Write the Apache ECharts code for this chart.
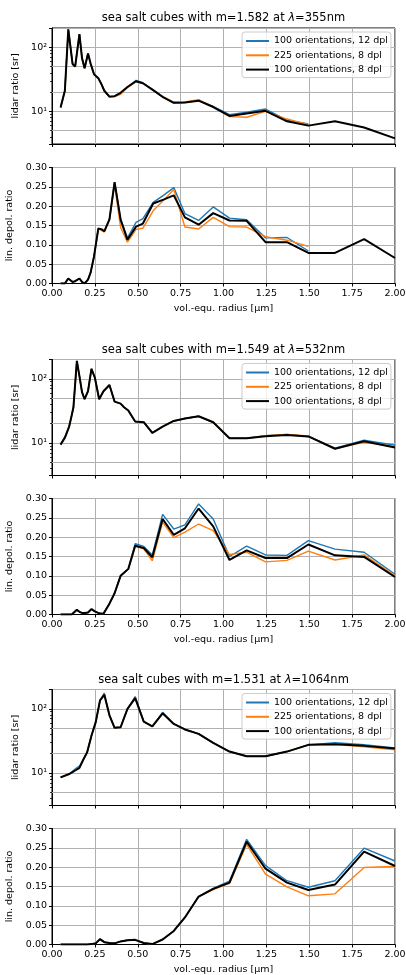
<!DOCTYPE html>
<html>
<head>
<meta charset="utf-8">
<script src="https://cdn.jsdelivr.net/npm/echarts@6/dist/echarts.min.js"></script>
<style>
  html, body { margin: 0; padding: 0; background: #ffffff; }
  #chart { width: 406px; height: 975px; }
</style>
</head>
<body>
<div id="chart"></div>
<script>
// Lidar ratio and linear depolarization ratio of sea salt cubes at three wavelengths,
// for three discretisation settings, as a function of volume-equivalent radius.

const seriesNames = ['100 orientations, 12 dpl', '225 orientations, 8 dpl', '100 orientations, 8 dpl'];
const seriesColors = ['#1f77b4', '#ff7f0e', '#000000'];
const seriesWidths = [1.4, 1.4, 2];

const panelTitles = [
  'sea salt cubes with m=1.582 at {i|λ}=355nm',
  'sea salt cubes with m=1.549 at {i|λ}=532nm',
  'sea salt cubes with m=1.531 at {i|λ}=1064nm'
];

const lidarMinorGrid = [5, 20, 50];

// ---- 355 nm ----
const radius355 = [0.05, 0.075, 0.095, 0.12, 0.135, 0.16, 0.175, 0.19, 0.21, 0.225, 0.245, 0.27, 0.29, 0.305, 0.335, 0.365, 0.4, 0.44, 0.49, 0.53, 0.59, 0.65, 0.71, 0.775, 0.855, 0.94, 1.035, 1.135, 1.245, 1.37, 1.495, 1.65, 1.82, 2.0];
const lidar355_o100_d12 = [11.5, 21, 190, 55, 50, 160, 68, 47, 80, 56, 38, 33, 26, 21, 17, 17.3, 19.5, 24, 30.5, 28, 21.5, 16.5, 13.6, 13.8, 14.8, 12, 8.9, 9.7, 10.9, 7.3, 6.4, null, null, null];
const lidar355_o225_d8 = [11.5, 21, 190, 55, 50, 160, 68, 47, 80, 56, 38, 33, 26, 21, 16.8, 17, 18.5, 23.5, 29, 27.5, 21.5, 16.8, 14, 14, 15.2, 11.8, 8.3, 8.1, 10.0, 7.6, 6.2, null, null, null];
const lidar355_o100_d8 = [11.5, 21, 190, 55, 50, 160, 68, 47, 80, 56, 38, 33, 26, 21, 17, 17.3, 19.5, 24, 29.5, 27.5, 21.5, 16.5, 13.6, 13.8, 14.7, 11.7, 8.5, 9.3, 10.2, 7.0, 6.0, 7.0, 5.6, 3.8];
const depol355_o100_d12 = [0, 0, 0.013, 0.004, 0.006, 0.013, 0.004, 0.0, 0.01, 0.028, 0.07, 0.142, 0.14, 0.135, 0.166, 0.262, 0.168, 0.118, 0.158, 0.168, 0.21, 0.228, 0.248, 0.181, 0.163, 0.198, 0.169, 0.165, 0.118, 0.119, 0.084, null, null, null];
const depol355_o225_d8 = [0, 0, 0.013, 0.004, 0.006, 0.013, 0.004, 0.0, 0.01, 0.028, 0.07, 0.142, 0.137, 0.133, 0.164, 0.255, 0.145, 0.107, 0.14, 0.143, 0.188, 0.215, 0.243, 0.146, 0.141, 0.171, 0.147, 0.146, 0.121, 0.112, 0.096, null, null, null];
const depol355_o100_d8 = [0, 0, 0.013, 0.004, 0.006, 0.013, 0.004, 0.0, 0.01, 0.028, 0.07, 0.142, 0.14, 0.135, 0.166, 0.262, 0.165, 0.113, 0.147, 0.155, 0.207, 0.217, 0.228, 0.171, 0.152, 0.182, 0.163, 0.162, 0.107, 0.107, 0.079, 0.079, 0.115, 0.066];

// ---- 532 nm ----
const radius532 = [0.05, 0.075, 0.1, 0.115, 0.125, 0.145, 0.16, 0.175, 0.19, 0.21, 0.23, 0.25, 0.275, 0.3, 0.335, 0.365, 0.4, 0.42, 0.445, 0.485, 0.535, 0.585, 0.645, 0.71, 0.775, 0.855, 0.94, 1.035, 1.135, 1.245, 1.37, 1.495, 1.65, 1.82, 2.0];
const lidar532_o100_d12 = [9.4, 12.5, 18, 27, 36, 190, 110, 62, 48, 64, 143, 104, 48, 64, 80, 44, 41, 36, 32, 21.5, 21, 14.3, 18, 22, 24, 26, 21, 11.8, 11.8, 12.9, 13.5, 12.6, 8.3, 11.0, 9.2];
const lidar532_o225_d8 = [9.4, 12, 18, 27, 36, 190, 110, 62, 48, 64, 143, 104, 48, 64, 80, 44, 41, 36, 32, 21.5, 21, 14.3, 18, 22, 24, 26, 21, 11.8, 11.8, 13.0, 13.6, 12.8, 8.1, 10.3, 8.7];
const lidar532_o100_d8 = [9.4, 12, 18, 27, 36, 190, 110, 62, 48, 64, 143, 104, 48, 64, 80, 44, 41, 36, 32, 21.5, 21, 14.3, 18, 22, 24, 26, 21, 11.8, 11.8, 12.7, 13.3, 12.6, 8.1, 10.6, 8.5];
const depol532_o100_d12 = [0, 0, 0, 0, 0.003, 0.012, 0.007, 0.004, 0.004, 0.005, 0.014, 0.008, 0.003, 0.002, 0.028, 0.055, 0.1, 0.108, 0.118, 0.183, 0.176, 0.154, 0.259, 0.221, 0.232, 0.286, 0.247, 0.15, 0.177, 0.154, 0.153, 0.191, 0.169, 0.161, 0.104];
const depol532_o225_d8 = [0, 0, 0, 0, 0.003, 0.012, 0.007, 0.004, 0.004, 0.005, 0.014, 0.008, 0.003, 0.002, 0.028, 0.055, 0.1, 0.108, 0.118, 0.176, 0.17, 0.139, 0.239, 0.199, 0.213, 0.234, 0.217, 0.155, 0.161, 0.136, 0.14, 0.164, 0.141, 0.154, 0.1];
const depol532_o100_d8 = [0, 0, 0, 0, 0.003, 0.012, 0.007, 0.004, 0.004, 0.005, 0.014, 0.008, 0.003, 0.002, 0.028, 0.055, 0.1, 0.108, 0.118, 0.178, 0.172, 0.148, 0.247, 0.206, 0.223, 0.274, 0.228, 0.141, 0.166, 0.146, 0.146, 0.181, 0.153, 0.149, 0.097];

// ---- 1064 nm ----
const radius1064 = [0.05, 0.1, 0.14, 0.16, 0.18, 0.205, 0.23, 0.255, 0.28, 0.305, 0.335, 0.365, 0.4, 0.44, 0.485, 0.535, 0.585, 0.645, 0.71, 0.775, 0.855, 0.94, 1.035, 1.135, 1.245, 1.37, 1.495, 1.65, 1.82, 2.0];
const lidar1064_o100_d12 = [8.5, 9.6, 11.8, 12.8, 15.6, 21, 38, 62, 135, 175, 79, 50.5, 51.5, 100, 155, 63, 53, 88, 58, 47.6, 40.6, 29.4, 21.5, 18.2, 18.2, 21.5, 27.4, 29.5, 27.5, 24.5];
const lidar1064_o225_d8 = [8.5, 9.6, 11.1, 12, 15.6, 21, 38, 62, 135, 165, 79, 50.5, 51.5, 100, 147, 63, 53, 85, 58, 47.6, 40.6, 29.4, 21.5, 18.2, 18.2, 21.5, 27.4, 28, 25.5, 23];
const lidar1064_o100_d8 = [8.5, 9.6, 11.1, 12, 15.6, 21, 38, 62, 135, 165, 79, 50.5, 51.5, 100, 147, 63, 53, 85, 58, 47.6, 40.6, 29.4, 21.5, 18.2, 18.2, 21.5, 27.4, 28, 26.4, 24];
const depol1064_o100_d12 = [0, 0, 0, 0, 0, 0, 0.001, 0.003, 0.014, 0.006, 0.004, 0.003, 0.008, 0.011, 0.012, 0.004, 0.001, 0.013, 0.035, 0.07, 0.124, 0.145, 0.164, 0.272, 0.204, 0.165, 0.148, 0.165, 0.249, 0.216];
const depol1064_o225_d8 = [0, 0, 0, 0, 0, 0, 0.001, 0.003, 0.014, 0.006, 0.004, 0.003, 0.008, 0.011, 0.012, 0.004, 0.001, 0.013, 0.035, 0.07, 0.124, 0.142, 0.158, 0.259, 0.182, 0.149, 0.126, 0.131, 0.199, 0.202];
const depol1064_o100_d8 = [0, 0, 0, 0, 0, 0, 0.001, 0.003, 0.014, 0.006, 0.004, 0.003, 0.008, 0.011, 0.012, 0.004, 0.001, 0.013, 0.035, 0.07, 0.124, 0.144, 0.16, 0.266, 0.196, 0.16, 0.141, 0.155, 0.24, 0.203];

const FONT = 'DejaVu Sans';
const GRID_COLOR = '#b0b0b0';

// Panels from top to bottom
const panels = [
  { kind: 'lidar', radius: radius355, values: [lidar355_o100_d12, lidar355_o225_d8, lidar355_o100_d8], top: 28, titleIndex: 0 },
  { kind: 'depol', radius: radius355, values: [depol355_o100_d12, depol355_o225_d8, depol355_o100_d8], top: 167.5 },
  { kind: 'lidar', radius: radius532, values: [lidar532_o100_d12, lidar532_o225_d8, lidar532_o100_d8], top: 359.5, titleIndex: 1 },
  { kind: 'depol', radius: radius532, values: [depol532_o100_d12, depol532_o225_d8, depol532_o100_d8], top: 498.5 },
  { kind: 'lidar', radius: radius1064, values: [lidar1064_o100_d12, lidar1064_o225_d8, lidar1064_o100_d8], top: 689.5, titleIndex: 2 },
  { kind: 'depol', radius: radius1064, values: [depol1064_o100_d12, depol1064_o225_d8, depol1064_o100_d8], top: 828.5 }
];
const PLOT_LEFT = 52;
const PLOT_WIDTH = 343;
const PLOT_HEIGHT = 116;

function pairs(xs, ys) {
  const out = [];
  xs.forEach((x, i) => { if (ys[i] !== null && ys[i] !== undefined) out.push([x, ys[i]]); });
  return out;
}

const labelStyle = { fontSize: 9.5, color: '#000000', fontFamily: FONT };

const grids = [], xAxes = [], yAxes = [], series = [], titles = [], legends = [];

panels.forEach((p, i) => {
  const isDepol = p.kind === 'depol';
  grids.push({
    left: PLOT_LEFT, top: p.top, width: PLOT_WIDTH, height: PLOT_HEIGHT,
    show: true, borderColor: '#000000', borderWidth: 1, backgroundColor: 'transparent',
    containLabel: false, outerBoundsMode: 'none'
  });
  xAxes.push({
    gridIndex: i, type: 'value', min: 0, max: 2, interval: 0.25,
    axisLine: { show: true, onZero: false, lineStyle: { color: '#000000', width: 1 } },
    axisTick: { show: true, length: 3, lineStyle: { color: '#000000', width: 1 } },
    axisLabel: Object.assign({ show: isDepol, margin: 5, formatter: v => v.toFixed(2) }, labelStyle),
    splitLine: { show: true, lineStyle: { color: GRID_COLOR, width: 1 } },
    name: isDepol ? 'vol.-equ. radius [μm]' : '',
    nameLocation: 'middle', nameGap: 20,
    nameTextStyle: labelStyle
  });
  if (isDepol) {
    yAxes.push({
      gridIndex: i, type: 'value', min: 0, max: 0.3, interval: 0.05,
      axisLine: { show: true, onZero: false, lineStyle: { color: '#000000', width: 1 } },
      axisTick: { show: true, length: 3, lineStyle: { color: '#000000', width: 1 } },
      axisLabel: Object.assign({ margin: 5, formatter: v => v.toFixed(2) }, labelStyle),
      splitLine: { show: true, lineStyle: { color: GRID_COLOR, width: 1 } },
      name: 'lin. depol. ratio', nameLocation: 'middle', nameGap: 32,
      nameTextStyle: labelStyle
    });
  } else {
    yAxes.push({
      gridIndex: i, type: 'log', logBase: 10, min: 3.1, max: 200,
      axisLine: { show: true, onZero: false, lineStyle: { color: '#000000', width: 1 } },
      axisTick: { show: true, length: 3, lineStyle: { color: '#000000', width: 1 } },
      minorTick: { show: true, splitNumber: 9, length: 2, lineStyle: { color: '#000000', width: 0.8 } },
      axisLabel: Object.assign({
        margin: 5,
        formatter: v => {
          const e = Math.log10(v);
          if (Math.abs(e - 1) < 1e-6) return '10¹';
          if (Math.abs(e - 2) < 1e-6) return '10²';
          return '';
        }
      }, labelStyle),
      splitLine: { show: true, lineStyle: { color: GRID_COLOR, width: 1 } },
      name: 'lidar ratio [sr]', nameLocation: 'middle', nameGap: 28,
      nameTextStyle: labelStyle
    });
    titles.push({
      text: panelTitles[p.titleIndex],
      left: PLOT_LEFT + PLOT_WIDTH / 2, top: p.top - 15.5,
      textAlign: 'center', textVerticalAlign: 'top', padding: 0,
      textStyle: {
        fontSize: 11.5, fontWeight: 'normal', color: '#000000', fontFamily: FONT,
        rich: { i: { fontSize: 11.5, fontStyle: 'italic', color: '#000000', fontFamily: FONT } }
      }
    });
    legends.push({
      orient: 'vertical', left: 242, top: p.top + 4,
      data: seriesNames, selectedMode: false,
      itemWidth: 23, itemHeight: 10, itemGap: 4.3,
      padding: [4, 3, 3, 3],
      itemStyle: { opacity: 0 },
      backgroundColor: 'rgba(255,255,255,0.8)',
      borderColor: '#cccccc', borderWidth: 1, borderRadius: 3,
      textStyle: labelStyle, z: 10
    });
  }
  p.values.forEach((vals, k) => {
    const s = {
      type: 'line', name: seriesNames[k],
      xAxisIndex: i, yAxisIndex: i,
      data: pairs(p.radius, vals),
      symbol: 'none', showSymbol: false,
      color: seriesColors[k],
      lineStyle: { color: seriesColors[k], width: seriesWidths[k] },
      itemStyle: { color: seriesColors[k] },
      animation: false, silent: true, z: 2 + k
    };
    if (!isDepol && k === 0) {
      // extra horizontal grid lines at the log-axis minor ticks
      s.markLine = {
        silent: true, symbol: 'none', z: 1, animation: false,
        label: { show: false },
        lineStyle: { color: GRID_COLOR, width: 1, type: 'solid' },
        emphasis: { disabled: true },
        data: lidarMinorGrid.map(v => ({ yAxis: v }))
      };
    }
    series.push(s);
  });
});

const chart = echarts.init(document.getElementById('chart'), null, { renderer: 'canvas' });
chart.setOption({
  animation: false,
  backgroundColor: '#ffffff',
  textStyle: { fontFamily: FONT },
  title: titles,
  legend: legends,
  grid: grids,
  xAxis: xAxes,
  yAxis: yAxes,
  series: series
});
</script>
</body>
</html>
